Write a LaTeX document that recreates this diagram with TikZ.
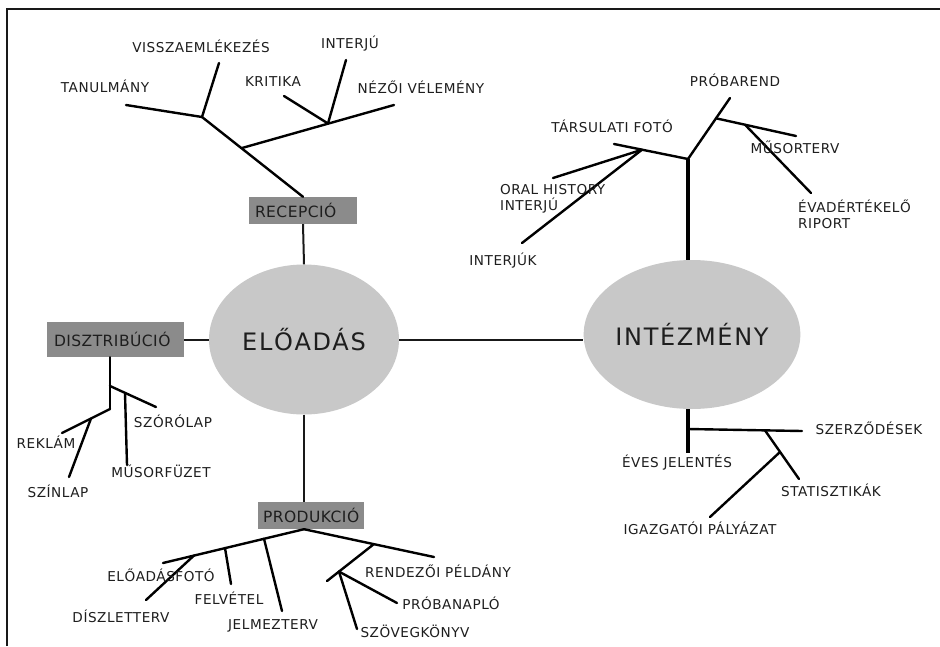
\documentclass[tikz,border=0pt]{standalone}
\usepackage{fontspec}
\setmainfont{DejaVu Sans}
\newfontfamily\labfont[LetterSpace=4]{DejaVu Sans}
\newfontfamily\boxfont[LetterSpace=3]{DejaVu Sans}
\newfontfamily\bigfont[LetterSpace=7]{DejaVu Sans}
\usetikzlibrary{shapes.geometric}
\definecolor{txt}{HTML}{1E1E1E}
\definecolor{ellfill}{HTML}{C8C8C8}
\definecolor{boxfill}{HTML}{8B8B8B}
\tikzset{
  br/.style={line width=2.4pt, draw=black, line cap=round},
  conn/.style={line width=2pt, draw=black!90},
  trunk/.style={line width=3.2pt, draw=black},
  lab/.style={font=\labfont\fontsize{13.6}{16}\selectfont, text=txt, inner sep=0pt, text height=9.9pt, text depth=0pt},
  mlab/.style={font=\labfont\fontsize{13.6}{16}\selectfont, text=txt, inner sep=0pt, align=left, anchor=north west},
  catbox/.style={rectangle, fill=boxfill, font=\boxfont\fontsize{15.5}{18}\selectfont, text=txt, align=left, inner ysep=0pt},
  hub/.style={ellipse, fill=ellfill, font=\bigfont\fontsize{24}{28}\selectfont, text=txt, inner sep=0pt}
}
\begin{document}
\begin{tikzpicture}[x=1pt,y=-1pt]
\useasboundingbox (0,0) rectangle (940,646);
\fill[white] (0,0) rectangle (940,646);
% frame
\draw[line width=2.5pt, draw=black!90] (7,646) -- (7,9) -- (940,9);

% hubs
\node[hub, minimum width=190pt, minimum height=150pt] (ea) at (304,339.5) {ELŐADÁS};
\node[hub, minimum width=189pt, minimum height=149pt] (ie) at (692,334.5) {INTÉZMÉNY};

% category boxes
\node[catbox, minimum height=27pt, inner xsep=6pt, text width=96pt] (recep) at (303,210.5) {RECEPCIÓ};
\node[catbox, minimum height=35pt, inner xsep=7pt, text width=123pt] (dist) at (115.5,339.5) {DISZTRIBÚCIÓ};
\node[catbox, minimum height=27pt, inner xsep=5pt, text width=96pt] (prod) at (311,515.5) {PRODUKCIÓ};

% hub connectors
\draw[conn] (ea.east) -- (ea.east -| ie.west);
\draw[conn] (recep.south) -- (ea.north);
\draw[conn] (dist.east) -- (ea.west);
\draw[conn] (ea.south) -- (ea.south |- prod.north);

% ---------- RECEPCIÓ tree ----------
\coordinate (r1) at (202,117);
\coordinate (r2) at (242,148);
\coordinate (r3) at (328,123.5);
\coordinate (tanEnd) at (126,105);
\coordinate (vissEnd) at (219,63);
\coordinate (nezEnd) at (394,105);
\coordinate (kritEnd) at (284,96);
\coordinate (intEnd) at (346,60);
\draw[br] (recep.north) -- (r1);
\draw[br] (r1) -- (tanEnd);
\draw[br] (r1) -- (vissEnd);
\draw[br] (r2) -- (nezEnd);
\draw[br] (r3) -- (kritEnd);
\draw[br] (r3) -- (intEnd);
\node[lab] (tan) at (105,88) {TANULMÁNY};
\node[lab] (viss) at (201,48) {VISSZAEMLÉKEZÉS};
\node[lab] (intj) at (350,44) {INTERJÚ};
\node[lab] (krit) at (273,82) {KRITIKA};
\node[lab] (nez) at (421,88.5) {NÉZŐI VÉLEMÉNY};

% ---------- INTÉZMÉNY top tree ----------
\coordinate (t1) at (688,159);
\coordinate (t2) at (716,118.3);
\coordinate (t3) at (745,124.7);
\coordinate (t4) at (642,149.7);
\coordinate (pEnd) at (730,98);
\coordinate (mEnd) at (796,136);
\coordinate (evEnd) at (811,193);
\coordinate (tfEnd) at (614,144);
\coordinate (ohEnd) at (553,178);
\coordinate (ikEnd) at (522,243);
\draw[trunk] (ie.north -| t1) -- (t1);
\draw[br] (t1) -- (pEnd);
\draw[br] (t2) -- (mEnd);
\draw[br] (t3) -- (evEnd);
\draw[br] (t1) -- (tfEnd);
\draw[br] (t4) -- (ohEnd);
\draw[br] (t4) -- (ikEnd);
\node[lab] (prob) at (735,82) {PRÓBAREND};
\node[lab] (tars) at (612,128) {TÁRSULATI FOTÓ};
\node[lab] (muso) at (795,149) {MŰSORTERV};
\node[mlab] (evad) at (798,199.5) {ÉVADÉRTÉKELŐ\\RIPORT};
\node[mlab] (oral) at (500,184) {ORAL HISTORY\\INTERJÚ};
\node[lab] (ik) at (503,261) {INTERJÚK};

% ---------- INTÉZMÉNY bottom tree ----------
\coordinate (b0) at (688,453);
\coordinate (b1) at (688,429);
\coordinate (b2) at (765,430.4);
\coordinate (b3) at (780,452);
\coordinate (szEnd) at (802,431);
\coordinate (stEnd) at (799,479);
\coordinate (igEnd) at (710,517);
\draw[trunk] (ie.south -| b0) -- (b0);
\draw[br] (b1) -- (szEnd);
\draw[br] (b2) -- (stEnd);
\draw[br] (b3) -- (igEnd);
\node[lab] (szer) at (869,430) {SZERZŐDÉSEK};
\node[lab] (eves) at (677,463) {ÉVES JELENTÉS};
\node[lab] (stat) at (831,492) {STATISZTIKÁK};
\node[lab] (igaz) at (700,530) {IGAZGATÓI PÁLYÁZAT};

% ---------- DISZTRIBÚCIÓ tree ----------
\coordinate (d0) at (110,409);
\coordinate (d1) at (110,386);
\coordinate (d2) at (125,392.8);
\coordinate (d3) at (91,418.5);
\coordinate (szoEnd) at (156,407);
\coordinate (musEnd) at (127,465);
\coordinate (rekEnd) at (62,433);
\coordinate (szinEnd) at (69,477);
\draw[br] (d0 |- dist.south) -- (d0);
\draw[br] (d1) -- (szoEnd);
\draw[br] (d2) -- (musEnd);
\draw[br] (d0) -- (rekEnd);
\draw[br] (d3) -- (szinEnd);
\node[lab] (szor) at (173,423) {SZÓRÓLAP};
\node[lab] (rek) at (46,444) {REKLÁM};
\node[lab] (musf) at (161,473) {MŰSORFÜZET};
\node[lab] (szin) at (58,493) {SZÍNLAP};

% ---------- PRODUKCIÓ tree ----------
\coordinate (p0) at (prod.south -| ea.south);
\coordinate (p1) at (194,555.5);
\coordinate (p2) at (225,548);
\coordinate (p3) at (264,538.7);
\coordinate (p4) at (374,544);
\coordinate (p5) at (327,581);
\coordinate (p6) at (339,571.6);
\coordinate (plEnd) at (163,563);
\coordinate (dEnd) at (146,600);
\coordinate (fEnd) at (231,584);
\coordinate (jEnd) at (282,611);
\coordinate (prEnd) at (434,557);
\coordinate (pnEnd) at (397,603);
\coordinate (svEnd) at (357,629);
\draw[br] (p0) -- (plEnd);
\draw[br] (p1) -- (dEnd);
\draw[br] (p2) -- (fEnd);
\draw[br] (p3) -- (jEnd);
\draw[br] (p0) -- (prEnd);
\draw[br] (p4) -- (p5);
\draw[br] (p6) -- (pnEnd);
\draw[br] (p6) -- (svEnd);
\node[lab] (eafoto) at (161,577) {ELŐADÁSFOTÓ};
\node[lab] (diszl) at (121,618) {DÍSZLETTERV};
\node[lab] (felv) at (229,600) {FELVÉTEL};
\node[lab] (jelm) at (273,625) {JELMEZTERV};
\node[lab] (rend) at (438,573) {RENDEZŐI PÉLDÁNY};
\node[lab] (pnap) at (451,605) {PRÓBANAPLÓ};
\node[lab] (szov) at (415,633) {SZÖVEGKÖNYV};
\end{tikzpicture}
\end{document}
